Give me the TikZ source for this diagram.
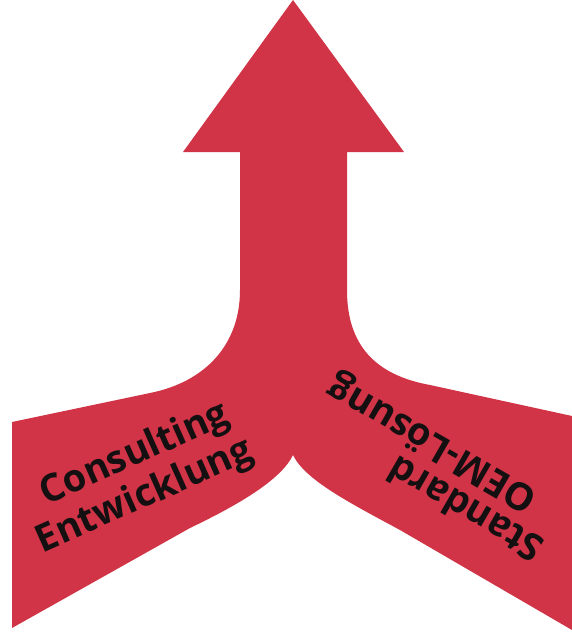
\documentclass[tikz,border=0pt]{standalone}
\usepackage{fontspec}
\newfontfamily\lblfont{Open Sans}
\definecolor{arrowred}{RGB}{209,52,70}
\definecolor{inkblack}{RGB}{20,16,18}
\begin{document}
\begin{tikzpicture}[x=1pt,y=-1pt,
  lbl/.style={inner sep=0pt, text=inkblack, font=\lblfont\bfseries\fontsize{38}{43}\selectfont}]
\useasboundingbox (0,0) rectangle (572,642);
\fill[arrowred]
  (293,0) -- (404,152) -- (347,152) -- (347,290)
  .. controls (347,345) and (375,375) .. (430,385)
  -- (572,416) -- (572,630) -- (400,530)
  .. controls (350,503) and (305,480) .. (293,455)
  .. controls (281,480) and (238,505) .. (190,528)
  -- (12,628) -- (12,422) -- (150,393)
  .. controls (205,382) and (240,345) .. (240,290)
  -- (240,152) -- (183,152) -- cycle;
\node[lbl, rotate=24] (c1) at (135,455) {Consulting};
\node[lbl, rotate=24] (c2) at (145,497) {Entwicklung};
\node[lbl, rotate=150] (s1) at (465,510) {Standard};
\node[lbl, rotate=150] (s2) at (433,442) {OEM-Lösung};
\end{tikzpicture}
\end{document}
